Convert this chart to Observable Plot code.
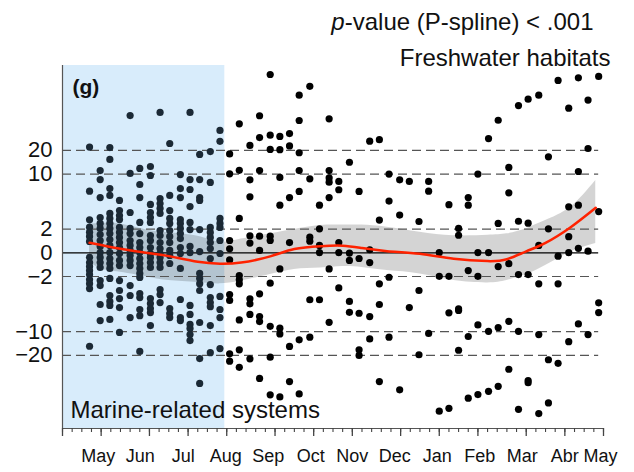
<!DOCTYPE html>
<html>
<head>
<meta charset="utf-8">
<script src="https://cdn.jsdelivr.net/npm/d3@7"></script>
<script src="https://cdn.jsdelivr.net/npm/@observablehq/plot@0.6"></script>
<style>
  html, body { margin: 0; padding: 0; background: white; }
  svg { display: block; }
</style>
</head>
<body>
<div id="chart"></div>
<script>
// Values on the chart's own vertical scale (linear up to |2|, log2 beyond)
const yTickValues = [-20, -10, -2, 0, 2, 10, 20];
const yTickLabels = ["−20", "−10", "−2", "0", "2", "10", "20"];
const dashedValues = [-20, -10, -2, 2, 10, 20];

const monthLabels = ["May", "Jun", "Jul", "Aug", "Sep", "Oct", "Nov", "Dec", "Jan", "Feb", "Mar", "Abr", "May"];
const monthLabelWeeks = [3.7, 8.05, 12.5, 16.9, 21.3, 25.7, 30.0, 34.4, 38.8, 43.2, 47.6, 52.0, 55.7];
const monthBoundaryWeeks = [0, 4, 9, 13, 17, 22, 26, 30, 35, 39, 43, 48, 52, 56];
const weekTicks = d3.range(0, 57);

const marineEnd = 16.8;

// Marine-related systems: week of each column and the values in it (chart units)
const marineWeeks = [2.8, 3.9, 4.9, 5.9, 7.0, 8.0, 9.1, 10.1, 11.1, 12.2, 13.2, 14.2, 15.3, 16.3];
const marineValues = [
  [4.46, 2.60, 1.39, 1.08, 0.87, 0.69, 0.48, -0.19, -0.41, -0.58, -0.75, -0.92, -1.13, -1.30, -1.51, -3.94],
  [3.47, 3.09, 2.33, 1.49, 1.24, 1.03, 0.77, 0.52, 0.27, 0.01, -0.20, -0.41, -0.62, -1.17, -1.38, -2.18, -2.86],
  [4.44, 3.94, 2.71, 2.42, 1.66, 1.45, 1.24, 1.03, 0.81, 0.56, 0.31, 0.01, -0.24, -0.45, -0.66, -1.08, -1.80, -2.05, -2.22, -2.81],
  [2.21, 1.78, 1.57, 1.40, 1.07, 0.86, 0.65, 0.43, 0.22, -0.03, -0.32, -0.54, -1.17, -1.59, -1.93, -2.31, -3.36],
  [5.79, 3.35, 1.70, 1.03, 0.81, 0.52, 0.31, 0.10, -0.11, -0.32, -0.54, -1.38, -1.80, -2.73],
  [3.56, 2.88, 2.33, 1.28, 0.81, 0.43, 0.22, 0.01, -0.24, -0.45, -0.66, -0.87, -1.04, -1.72, -1.89, -2.39, -2.65, -4.16],
  [3.64, 3.26, 2.04, 1.70, 1.49, 1.28, 0.73, 0.52, 0.22, -0.03, -0.20, -0.41, -0.62, -1.93, -2.14, -2.35, -2.52, -3.07],
  [5.92, 2.29, 2.08, 1.87, 1.66, 0.94, 0.73, 0.43, 0.18, -0.03, -0.20, -0.41, -0.62, -1.55, -1.76, -2.10],
  [4.61, 2.42, 1.78, 1.45, 1.24, 0.94, 0.69, 0.43, 0.10, -0.11, -0.45, -2.35, -2.56, -2.73],
  [3.30, 2.71, 2.33, 1.40, 1.24, 1.03, 0.81, 0.60, 0.22, -0.03, -0.66, -1.97, -2.73, -2.86],
  [5.92, 3.09, 2.67, 1.95, 1.28, 0.98, 0.27, 0.01, -2.22, -2.60, -3.02, -3.19, -3.45, -3.70],
  [4.15, 3.09, 2.33, 2.21, 0.98, 0.05, -0.87, -1.08, -1.30, -1.59, -2.94, -4.46, -5.51],
  [4.27, 2.97, 1.07, 0.86, 0.65, 0.43, 0.18, -0.24, -1.34, -1.89, -2.10, -2.27, -3.07, -4.21],
  [5.16, 4.70, 1.45, 1.24, 1.07, 0.52, -0.03, -1.84, -2.39, -2.73, -4.04]
];

// Freshwater habitats
const freshWeeks = [17.3, 18.3, 19.4, 20.4, 21.5, 22.5, 23.5, 24.5, 25.6, 26.6, 27.6, 28.6, 29.7, 30.7, 31.8, 32.8, 33.8, 34.9, 35.9, 36.9, 37.9, 39.0, 40.0, 41.0, 42.0, 43.0, 44.1, 45.1, 46.2, 47.2, 48.2, 49.3, 50.3, 51.3, 52.4, 53.4, 54.4, 55.5];
const freshValues = [
  [4.17, 3.33, 0.52, 0.17, -0.30, -1.76, -2.01, -4.26, -4.57],
  [5.44, 3.48, 1.45, -0.96, -1.14, -1.31, -2.83, -4.09, -4.83],
  [4.53, 3.08, 2.36, 0.72, 0.41, -1.94, -2.15, -2.60, -4.47],
  [5.78, 4.86, 3.47, 0.70, 0.10, -1.73, -2.69, -2.90, -5.30],
  [7.52, 4.96, 4.36, 0.70, 0.52, -1.28, -3.10, -4.40, -5.99],
  [4.91, 4.35, 3.18, 2.01, -0.68, -3.18, -3.42, -6.08],
  [5.03, 4.51, 2.33, 0.43, -3.95, -5.43],
  [6.65, 5.58, 4.22, 3.47, 2.59, -3.67, -5.95],
  [7.02, 3.12, 0.66, 0.49, -1.98, -3.56],
  [2.01, 1.01, 0.31, 0.01, -1.98],
  [5.65, 3.47, 3.16, 2.98, 2.33, -0.68, -2.93],
  [3.01, 2.66, 0.43, 0.01, -1.48],
  [3.82, -0.01, -0.32, -2.05, -2.51],
  [2.59, -0.24, -2.55, -4.09, -4.33],
  [4.71, 0.13, -0.41, -2.69, -3.63],
  [4.77, 1.38, -1.31, -2.18, -5.43],
  [3.32, 2.18, -1.03, -3.56],
  [3.08, 1.59, -5.78],
  [3.01, -2.31],
  [1.32, -1.59, -4.30],
  [3.01, 2.60, -3.40],
  [0.01, -0.99, -6.68],
  [2.03, -0.99, -2.53, -6.56],
  [1.03, 0.74, -2.36, -2.43, -4.11],
  [2.33, 2.01, -0.75, -3.53, -6.13],
  [3.32, 0.01, -0.99, -3.04, -5.98],
  [4.82, 0.01, -3.31, -5.84],
  [5.59, 1.24, -0.58, -3.15, -5.63],
  [3.60, 2.53, -0.46, -2.89, -4.91],
  [6.21, 1.33, -0.92, -3.31, -6.60],
  [6.48, 1.25, -0.92, -5.39, -5.48],
  [6.65, 0.31, -1.31, -3.45, -6.78],
  [4.05, 1.01, -4.51, -6.33],
  [7.27, -0.14, -1.31, -4.66],
  [6.10, 1.94, 0.68, 0.01, -3.75],
  [7.38, 3.43, 2.01, 0.19, -3.00],
  [6.44, 4.40, 0.07, -3.45],
  [7.44, 1.74, -2.11, -2.52]
];

// P-spline fit and its band
const fitWeeks = [2.8, 4, 6, 9, 11, 14, 16.3, 18.5, 21.5, 24, 26.7, 29, 31, 33.6, 37, 40.5, 44, 46, 48, 50, 52.6, 55.2];
const fitValues = [0.42, 0.33, 0.17, -0.02, -0.14, -0.38, -0.46, -0.41, -0.15, 0.16, 0.28, 0.30, 0.20, 0.07, -0.04, -0.25, -0.35, -0.27, 0.06, 0.42, 1.08, 1.90];
const bandHigh = [1.22, 1.24, 1.22, 0.94, 0.85, 0.70, 0.45, 0.58, 0.80, 0.98, 1.15, 1.17, 1.17, 1.08, 0.87, 0.72, 0.74, 0.80, 1.02, 1.36, 1.93, 3.05];
const bandLow = [-0.39, -0.68, -0.82, -1.04, -1.17, -1.25, -1.31, -1.19, -0.92, -0.70, -0.64, -0.58, -0.62, -0.75, -0.89, -1.17, -1.27, -1.17, -0.92, -0.54, 0.03, 0.39];

// chart scale transform: linear in [-2, 2], log2 beyond
const tf = v => Math.abs(v) <= 2 ? v / 2 : Math.sign(v) * Math.log2(Math.abs(v));

const yMin = -7.41, yMax = 7.9;
const marine = marineWeeks.flatMap((w, i) => marineValues[i].map(v => ({week: w, value: v})));
const fresh = freshWeeks.flatMap((w, i) => freshValues[i].map(v => ({week: w, value: v})));
const fit = fitWeeks.map((w, i) => ({week: w, fit: fitValues[i], lo: bandLow[i], hi: bandHigh[i]}));

const font = "'Liberation Sans', Arial, Helvetica, sans-serif";

const chart = Plot.plot({
  width: 634,
  height: 472,
  marginLeft: 62,
  marginRight: 31,
  marginTop: 65,
  marginBottom: 44,
  style: {fontFamily: font, background: "white", overflow: "visible"},
  x: {domain: [0, 56]},
  y: {domain: [yMin, yMax], axis: null},
  marks: [
    Plot.rect([{x1: 0, x2: marineEnd, y1: yMin, y2: yMax}], {x1: "x1", x2: "x2", y1: "y1", y2: "y2", fill: "#d8ecfb"}),
    Plot.areaY(fit, {x: "week", y1: "lo", y2: "hi", fill: "black", fillOpacity: 0.17, curve: "natural"}),
    Plot.ruleY(dashedValues.map(tf), {y: d => d, x1: () => 0, x2: () => 55.5, stroke: "#555", strokeWidth: 1.2, strokeDasharray: "9,5"}),
    Plot.ruleY([0], {y: d => d, x1: () => 0, x2: () => 55.5, stroke: "black", strokeWidth: 1.3}),
    Plot.dot(marine, {x: "week", y: "value", r: 3.6, fill: "#1b2935", stroke: "none"}),
    Plot.dot(fresh, {x: "week", y: "value", r: 3.6, fill: "black", stroke: "none"}),
    Plot.line(fit, {x: "week", y: "fit", stroke: "#ff2200", strokeWidth: 2.5, curve: "natural"}),
    Plot.ruleX([0], {stroke: "#555", strokeWidth: 1.2}),
    Plot.ruleY([yMin], {stroke: "#555", strokeWidth: 1.2}),
    Plot.axisX({ticks: weekTicks, tickSize: 4, tickFormat: () => "", stroke: "#444", strokeWidth: 1.1}),
    Plot.axisX({ticks: monthBoundaryWeeks, tickSize: 8, tickFormat: () => "", stroke: "#444", strokeWidth: 1.3}),
    Plot.text(monthLabels, {x: (d, i) => monthLabelWeeks[i], text: d => d, frameAnchor: "bottom", lineAnchor: "top", dy: 21, fontSize: 18, fill: "#111"}),
    Plot.text(yTickValues, {y: d => tf(d), text: (d, i) => yTickLabels[i], frameAnchor: "left", textAnchor: "end", lineAnchor: "middle", dx: -10, fontSize: 22, fill: "#111"}),
    Plot.text(["(g)"], {text: d => d, frameAnchor: "top-left", textAnchor: "start", lineAnchor: "bottom", dx: 10, dy: 28, fontSize: 21, fontWeight: "bold", fill: "#111"}),
    Plot.text(["Marine-related systems"], {text: d => d, frameAnchor: "bottom-left", textAnchor: "start", lineAnchor: "bottom", dx: 8, dy: -10.5, fontSize: 24, fill: "#111"}),
    Plot.text(["Freshwater habitats"], {text: d => d, frameAnchor: "top-right", textAnchor: "end", lineAnchor: "bottom", dx: 7, dy: 0.5, fontSize: 24, fill: "#111"}),
    Plot.text(["p-value (P-spline) < .001"], {text: d => d, frameAnchor: "top-right", textAnchor: "end", lineAnchor: "bottom", dx: -10, dy: -36, fontSize: 24, fill: "#111"})
  ]
});

// italicise the "p" of p-value
chart.querySelectorAll("text").forEach(t => {
  if (t.textContent === "p-value (P-spline) < .001") {
    while (t.firstChild) t.removeChild(t.firstChild);
    const ns = "http://www.w3.org/2000/svg";
    const a = document.createElementNS(ns, "tspan");
    a.setAttribute("font-style", "italic");
    a.textContent = "p";
    const b = document.createElementNS(ns, "tspan");
    b.textContent = "-value (P-spline) < .001";
    t.appendChild(a);
    t.appendChild(b);
  }
});

document.getElementById("chart").appendChild(chart);
</script>
</body>
</html>
